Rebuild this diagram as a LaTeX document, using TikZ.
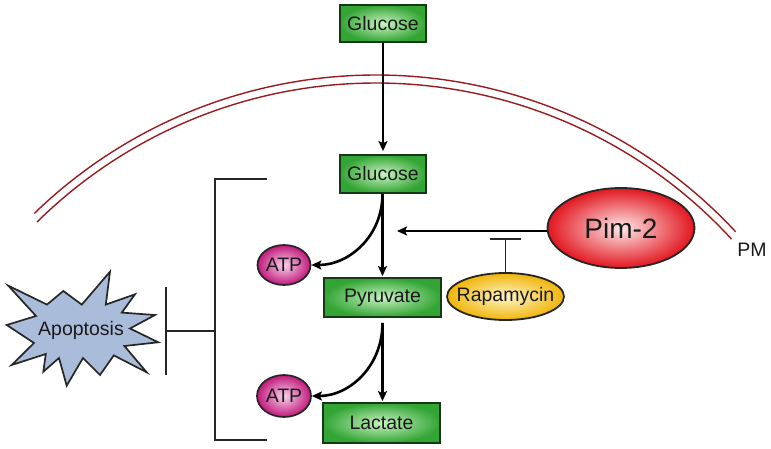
\documentclass[tikz,border=0pt]{standalone}
\usepackage{fontspec}
\setmainfont{Liberation Sans}
\usetikzlibrary{arrows.meta,shapes.geometric}
\definecolor{boxout}{HTML}{33A534}
\definecolor{boxin}{HTML}{C9F2C4}
\definecolor{boxline}{HTML}{163816}
\definecolor{pimout}{HTML}{E2161F}
\definecolor{pimin}{HTML}{FDE9E9}
\definecolor{rapout}{HTML}{F0B50A}
\definecolor{rapin}{HTML}{FFF5C8}
\definecolor{atpout}{HTML}{C0187A}
\definecolor{atpin}{HTML}{F9D3EC}
\definecolor{apofill}{HTML}{A9BCD9}
\definecolor{memred}{HTML}{9A1B1E}
\definecolor{txtcol}{HTML}{1A1A1A}
\begin{document}
\begin{tikzpicture}[x=1pt,y=-1pt,
  txt/.style={font=\fontsize{19.5}{21}\selectfont, text=txtcol},
  metab/.style={txt, rectangle, draw=boxline, line width=1.8pt, shading=radial, inner color=boxin, outer color=boxout, inner sep=0pt},
  atpnode/.style={txt, ellipse, draw=black!85, line width=1.7pt, shading=radial, inner color=atpin, outer color=atpout, inner sep=0pt},
  arr/.style={-{Stealth[length=10pt,width=9pt,inset=2pt]}, line width=2.6pt, black},
  inh/.style={-{Bar[width=31pt]}, line width=1.9pt, black!85},
  brk/.style={line width=1.8pt, black!85},
  mem/.style={line width=1.4pt, memred},
  apostar/.style={draw=black!85, line width=1.7pt, fill=apofill, line join=miter}
]
\useasboundingbox (0,0) rectangle (771,449);

% membrane
\coordinate (mc) at (376,566);
\draw[mem] (mc) ++(-134.1:491) arc[start angle=-134.1,end angle=-42.9,radius=491];
\draw[mem] (mc) ++(-134.6:483) arc[start angle=-134.6,end angle=-42.6,radius=483];
\node[txt, anchor=center] (pm) at (752,250) {PM};

% metabolites
\node[metab, minimum width=86pt, minimum height=37pt] (g1) at (383,23.5) {Glucose};
\node[metab, minimum width=86pt, minimum height=38pt] (g2) at (383,174) {Glucose};
\node[metab, minimum width=117pt, minimum height=39pt] (pyr) at (382.5,297.5) {Pyruvate};
\node[metab, minimum width=117pt, minimum height=40pt] (lac) at (381.5,423) {Lactate};

\node[atpnode, minimum width=53pt, minimum height=40pt] (atp1) at (284,265) {\makebox[0pt]{ATP}};
\node[atpnode, minimum width=54pt, minimum height=42pt] (atp2) at (284,396) {\makebox[0pt]{ATP}};

\node[ellipse, draw=black!85, line width=1.8pt, shading=radial, inner color=pimin, outer color=pimout,
      minimum width=147pt, minimum height=80pt, inner sep=0pt, text=txtcol,
      font=\fontsize{28}{30}\selectfont] (pim) at (621,228) {\makebox[0pt]{Pim-2}};
\node[txt, ellipse, draw=black!85, line width=1.8pt, shading=radial, inner color=rapin, outer color=rapout,
      minimum width=117pt, minimum height=47pt, inner sep=0pt] (rapa) at (505.5,296.5) {\makebox[0pt]{Rapamycin}};

% arrows
\draw[arr, shorten >=3pt] (g1.south) -- (g1.south |- g2.north);
\draw[arr, shorten >=1pt] (g2.south -| pyr.north) -- (pyr.north);
\draw[arr, shorten <=5pt, shorten >=1pt] (pyr.south) -- (pyr.south |- lac.north);
\draw[arr] (g2.south -| pyr.north) .. controls +(0,42) and +(38,0) .. (atp1.east);
\draw[arr, shorten <=5pt] (pyr.south) .. controls +(0,48) and +(38,0) .. (atp2.east);

\coordinate (pimt) at (397,231);
\draw[arr] (pimt -| pim.west) -- (pimt);
\coordinate (tb) at (505.5,238);
\draw[inh] (rapa.north) -- (tb);

% apoptosis star
\draw[apostar] (8.3,285.7) -- (47,304.6) -- (63.3,291) -- (81.8,304.6) -- (110,271.7) -- (105.8,304.6)
  -- (135,294.3) -- (121.8,312.6) -- (155,315) -- (130,328.5) -- (158.3,342.3) -- (124.4,346)
  -- (146.7,372.3) -- (113.8,355.4) -- (100,375) -- (83,358) -- (66.7,385.7) -- (59,358)
  -- (43.3,371.7) -- (45.8,354) -- (11.7,365) -- (34,343) -- (6.7,325) -- (36,316) -- cycle;
\node[txt] (apo) at (81,330) {Apoptosis};

% bracket
\coordinate (bt) at (267,179);
\coordinate (btc) at (215,179);
\coordinate (bbc) at (215,440);
\coordinate (bb) at (267,440);
\coordinate (bm) at (215,331);
\coordinate (bar) at (165,331);
\draw[brk] (bt) -- (btc) -- (bbc) -- (bb);
\draw[brk, -{Bar[width=88pt]}] (bm) -- (bar);
\end{tikzpicture}
\end{document}
